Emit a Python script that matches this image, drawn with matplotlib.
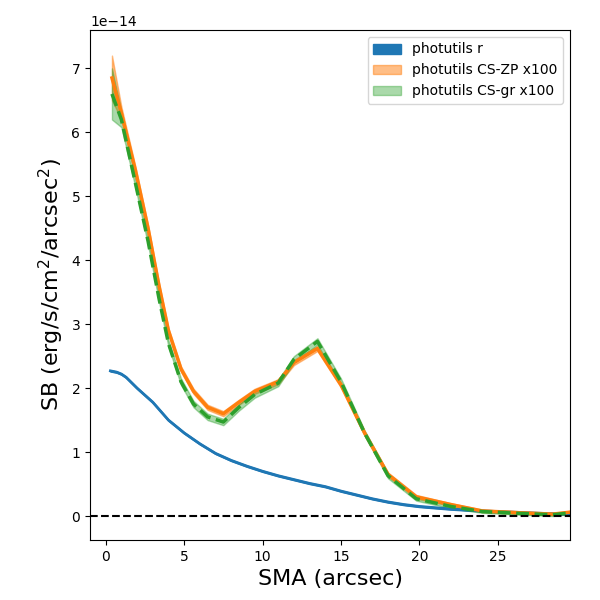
import numpy as np
import matplotlib
matplotlib.use("Agg")
import matplotlib.pyplot as plt

# blue profile (photutils r)
sma_r = [0.3, 0.7, 1.0, 1.3, 2, 3, 4, 5, 6, 7, 8, 9, 10, 11, 12, 13, 14, 15, 16,
         17, 18, 19, 20, 22, 24, 26, 28, 29.6]
sb_r = [2.27, 2.25, 2.22, 2.17, 2.0, 1.78, 1.5, 1.3, 1.13, 0.98, 0.87, 0.78, 0.7,
        0.63, 0.57, 0.51, 0.46, 0.39, 0.33, 0.27, 0.22, 0.18, 0.15, 0.11, 0.08,
        0.06, 0.04, 0.03]

sma = [0.4, 1.0, 1.9, 2.7, 3.4, 4.0, 4.8, 5.6, 6.5, 7.5, 8.5, 9.5, 11, 12, 13.5,
       15, 16.5, 18, 19.8, 22, 24, 26.5, 28.5, 29.6]
sb_zp = [6.85, 6.3, 5.4, 4.5, 3.6, 2.9, 2.3, 1.95, 1.7, 1.6, 1.78, 1.95, 2.1, 2.4,
         2.62, 2.05, 1.3, 0.65, 0.3, 0.18, 0.08, 0.05, 0.03, 0.06]
err_zp = [0.35, 0.1, 0.06, 0.05, 0.04, 0.04, 0.04, 0.04, 0.04, 0.04, 0.04, 0.04,
          0.04, 0.04, 0.04, 0.04, 0.03, 0.03, 0.03, 0.02, 0.02, 0.02, 0.02, 0.02]
sb_gr = [6.6, 6.2, 5.2, 4.3, 3.4, 2.7, 2.1, 1.75, 1.55, 1.47, 1.7, 1.9, 2.08, 2.45,
         2.73, 2.1, 1.3, 0.63, 0.27, 0.15, 0.07, 0.04, 0.02, 0.05]
err_gr = [0.4, 0.12, 0.07, 0.06, 0.05, 0.05, 0.05, 0.05, 0.05, 0.05, 0.05, 0.05,
          0.05, 0.05, 0.05, 0.05, 0.04, 0.04, 0.03, 0.03, 0.02, 0.02, 0.02, 0.02]

scale = 1e-14
x = np.array(sma)
zp = np.array(sb_zp) * scale
gr = np.array(sb_gr) * scale
ezp = np.array(err_zp) * scale
egr = np.array(err_gr) * scale

fig, ax = plt.subplots(figsize=(6, 6), dpi=100)
ax.fill_between(sma_r, np.array(sb_r) * scale - 1e-16, np.array(sb_r) * scale + 1e-16,
                color="C0", label="photutils r")
ax.plot(sma_r, np.array(sb_r) * scale, color="C0", lw=2)
ax.fill_between(x, zp - ezp, zp + ezp, color="C1", alpha=0.5, label="photutils CS-ZP x100")
ax.plot(x, zp, color="C1", lw=2.5)
ax.fill_between(x, gr - egr, gr + egr, color="C2", alpha=0.4, label="photutils CS-gr x100")
ax.plot(x, gr, color="C2", lw=2.5, ls="--")
ax.axhline(0, color="k", ls="--")

ax.set_xlim(-1.0, 29.6)
ax.set_ylim(-0.375e-14, 7.6e-14)
ax.set_xlabel("SMA (arcsec)", fontsize=16)
ax.set_ylabel("SB (erg/s/cm$^2$/arcsec$^2$)", fontsize=16)
ax.legend(loc="upper right")
plt.subplots_adjust(left=0.15, right=0.95, top=0.95, bottom=0.1)
plt.savefig("out.png")
